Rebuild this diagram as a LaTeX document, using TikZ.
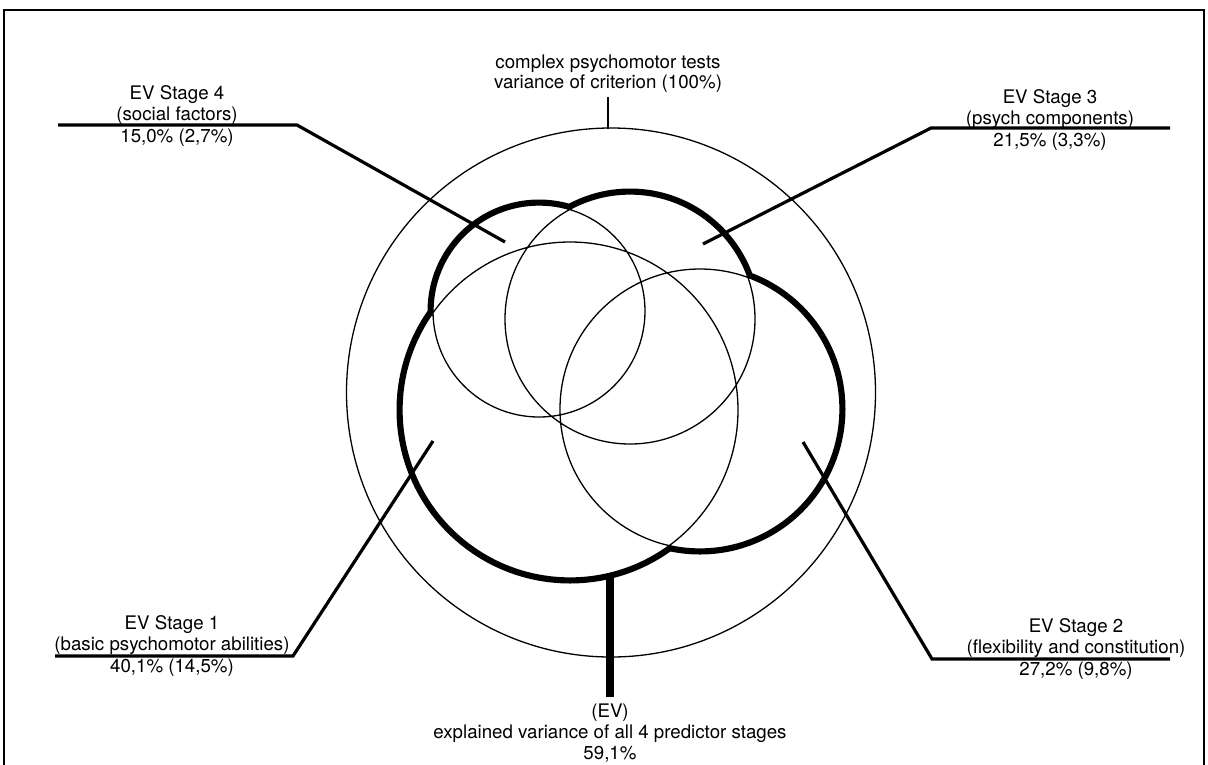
\documentclass[tikz,border=0pt]{standalone}
\usepackage{fontspec}
\setmainfont{TeX Gyre Heros}
\begin{document}
\begin{tikzpicture}[x=1pt,y=-1pt,
  lbl/.style={inner sep=0pt, anchor=base, font=\fontsize{18.7}{20.5}\selectfont},
  thinline/.style={line width=1.3pt},
  hull/.style={line width=11pt},
  leader/.style={line width=3.2pt, line join=miter},
  stem/.style={line width=8pt}]
\useasboundingbox (0,0) rectangle (1208,764);

% frame
\draw[line width=1.5pt] (4,770) -- (4,10) -- (1204,10) -- (1204,770);

% criterion circle with its tick
\coordinate (crit) at (611,392.5);
\draw[thinline] (crit) circle[radius=264.5pt];
\coordinate (tickTop) at (608,97);
\coordinate (tickBot) at (608,128.5);
\draw[thinline] (tickTop) -- (tickBot);

% predictor circles
\coordinate (c1) at (570,410);
\coordinate (c2) at (700,409);
\coordinate (c3) at (630,319);
\coordinate (c4) at (539,311);

% thick outline of the union
\draw[hull] (c1) circle[radius=168pt] (c2) circle[radius=140pt]
            (c3) circle[radius=125pt] (c4) circle[radius=106pt];
\fill[white] (c1) circle[radius=168pt] (c2) circle[radius=140pt]
            (c3) circle[radius=125pt] (c4) circle[radius=106pt];
% thin circle outlines
\draw[thinline] (c1) circle[radius=168pt] (c2) circle[radius=140pt]
                (c3) circle[radius=125pt] (c4) circle[radius=106pt];

% leader lines
\coordinate (s4h) at (58,125);  \coordinate (s4k) at (297,125);  \coordinate (s4e) at (505,242);
\coordinate (s3h) at (1170,128);\coordinate (s3k) at (931,128);  \coordinate (s3e) at (703,244);
\coordinate (s1h) at (55,656);  \coordinate (s1k) at (293,656);  \coordinate (s1e) at (433,441);
\coordinate (s2h) at (1170,659);\coordinate (s2k) at (932,659);  \coordinate (s2e) at (803,442);
\draw[leader] (s4h) -- (s4k) -- (s4e);
\draw[leader] (s3h) -- (s3k) -- (s3e);
\draw[leader] (s1h) -- (s1k) -- (s1e);
\draw[leader] (s2h) -- (s2k) -- (s2e);

% explained variance stem
\coordinate (evTop) at (610,576);
\coordinate (evBot) at (610,697);
\draw[stem] (evTop) -- (evBot);

% labels
\node[lbl] (critA) at (608,68) {complex psychomotor tests};
\node[lbl] (critB) at (608,88.5) {variance of criterion (100\%)};

\node[lbl] (s4a) at (177,99.5) {EV Stage 4};
\node[lbl] (s4b) at (177,120.5) {(social factors)};
\node[lbl] (s4c) at (177,142) {15,0\% (2,7\%)};

\node[lbl] (s3a) at (1050,103) {EV Stage 3};
\node[lbl] (s3b) at (1050,124) {(psych components)};
\node[lbl] (s3c) at (1050,146) {21,5\% (3,3\%)};

\node[lbl] (s1a) at (172,629) {EV Stage 1};
\node[lbl] (s1b) at (172,650.5) {(basic psychomotor abilities)};
\node[lbl] (s1c) at (172,672.5) {40,1\% (14,5\%)};

\node[lbl] (s2a) at (1076,632) {EV Stage 2};
\node[lbl] (s2b) at (1076,653.5) {(flexibility and constitution)};
\node[lbl] (s2c) at (1076,675.5) {27,2\% (9,8\%)};

\node[lbl] (evA) at (610,717) {(EV)};
\node[lbl] (evB) at (610,738) {explained variance of all 4 predictor stages};
\node[lbl] (evC) at (610,759) {59,1\%};
\end{tikzpicture}
\end{document}
